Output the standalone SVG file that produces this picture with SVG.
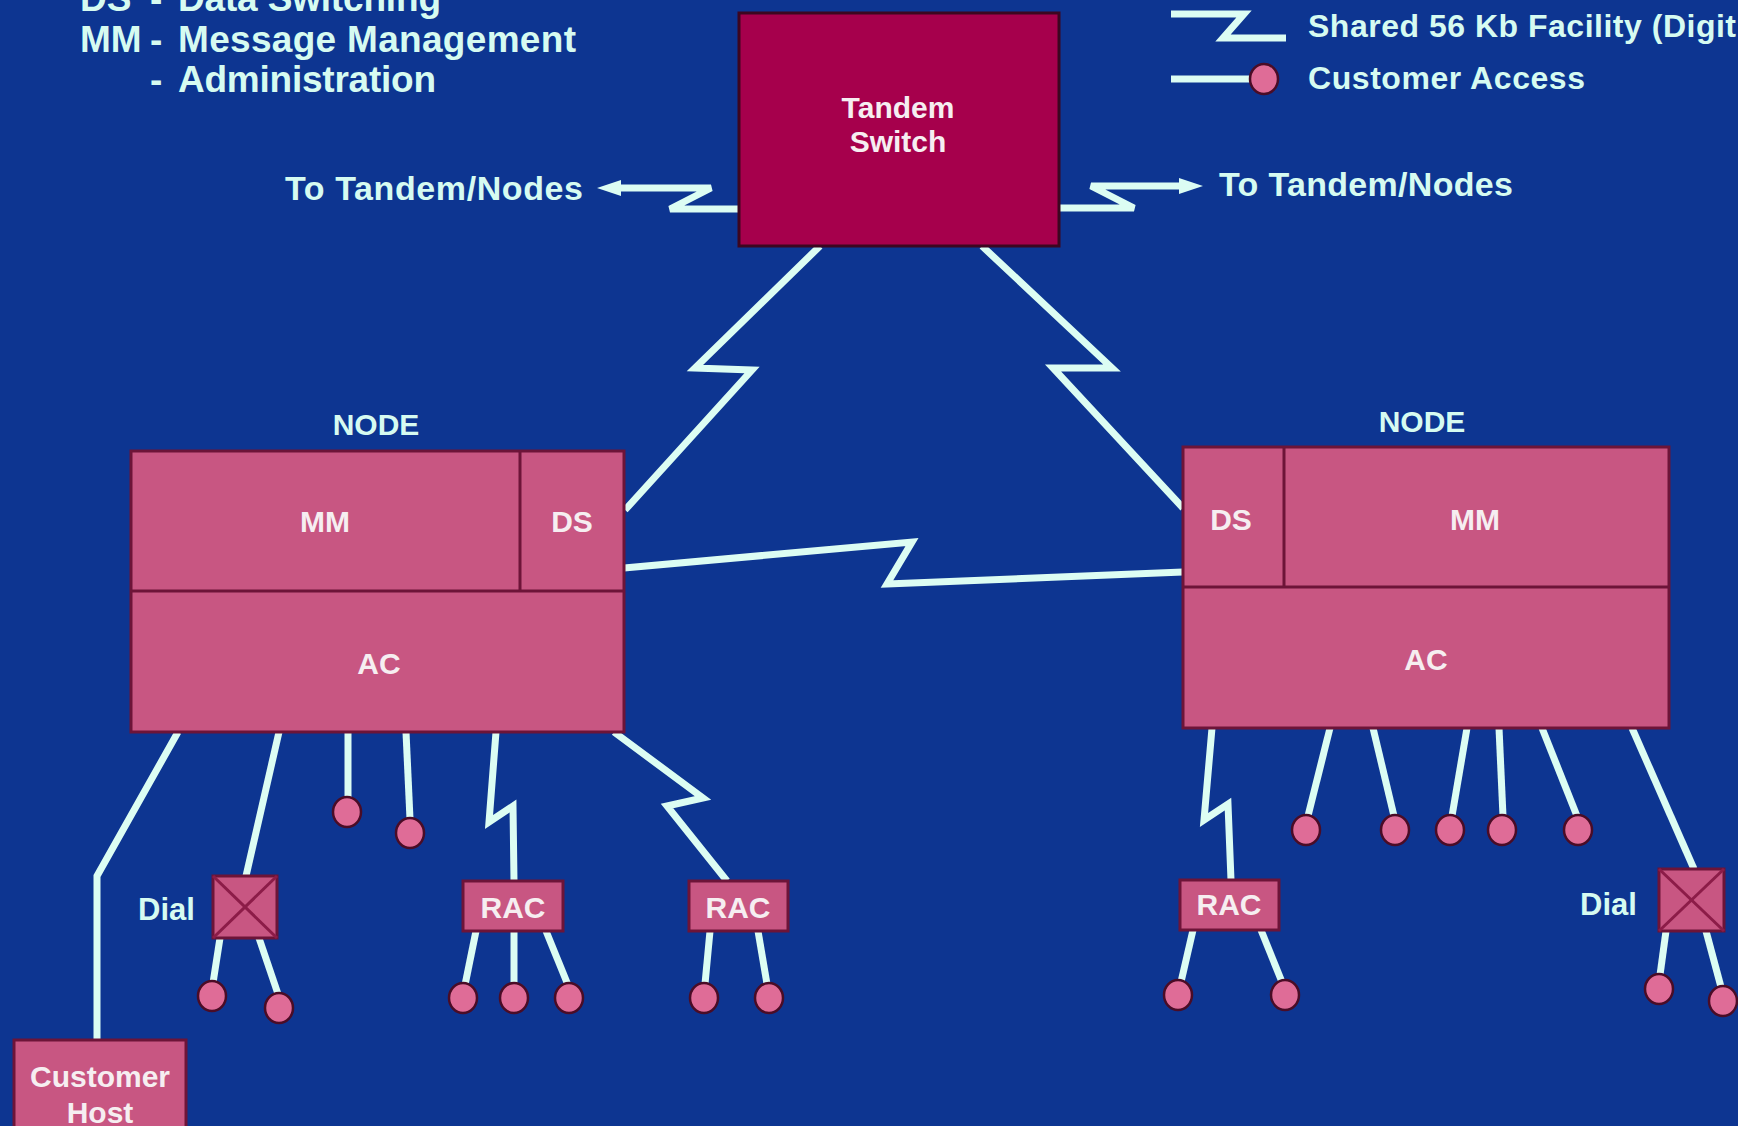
<svg xmlns="http://www.w3.org/2000/svg" width="1738" height="1126" viewBox="0 0 1738 1126">
  <defs>
    <style>
      .ln { fill: none; stroke: #dcfdf3; stroke-width: 7; stroke-linejoin: miter; stroke-miterlimit: 4; stroke-linecap: butt; }
      .txt { font-family: "Liberation Sans", Arial, Helvetica, sans-serif; font-weight: bold; fill: #d6fbf1; }
      .legend { font-size: 37px; }
      .legend2 { font-size: 32px; }
      .dest { font-size: 34px; }
      .nodelbl { font-size: 30px; text-anchor: middle; }
      .inner { font-family: "Liberation Sans", Arial, Helvetica, sans-serif; font-weight: bold; fill: #f6eef1; text-anchor: middle; font-size: 30px; }
      .tandem { fill: #a6004c; stroke: #3c0620; stroke-width: 3; }
      .node { fill: #c85682; stroke: #6d1438; stroke-width: 3; }
      .div { stroke: #6d1438; stroke-width: 3; }
      .ca { fill: #df6c97; stroke: #4a0c26; stroke-width: 2.5; }
      .xline { stroke: #8c1c48; stroke-width: 3; }
    </style>
    <marker id="arrow" viewBox="0 0 24 16" refX="4" refY="8" markerWidth="24" markerHeight="16" markerUnits="userSpaceOnUse" orient="auto">
      <path d="M0,0 L24,8 L0,16 Z" fill="#dcfdf3"/>
    </marker>
  </defs>

  <!-- backdrop -->
  <rect x="0" y="0" width="1738" height="1126" fill="#0d3591"/>

  <!-- legend: abbreviations -->
  <g id="legend-abbrev" class="txt legend">
    <text x="80" y="11">DS</text>
    <text x="150" y="11">-</text>
    <text x="178" y="11" textLength="263" lengthAdjust="spacing">Data Switching</text>
    <text x="80" y="52">MM</text>
    <text x="150" y="52">-</text>
    <text x="178" y="52" textLength="398" lengthAdjust="spacing">Message Management</text>
    <text x="150" y="92">-</text>
    <text x="178" y="92" textLength="258" lengthAdjust="spacing">Administration</text>
  </g>

  <!-- legend: line symbols -->
  <g id="legend-symbols">
    <path class="ln" d="M1171,14 L1244,14 L1223,38 L1286,38"/>
    <path class="ln" d="M1171,79 L1252,79"/>
    <ellipse class="ca" cx="1264" cy="79" rx="14" ry="15"/>
    <text class="txt legend2" x="1308" y="37" textLength="428" lengthAdjust="spacing">Shared 56 Kb Facility (Digit</text>
    <text class="txt legend2" x="1308" y="89" textLength="277" lengthAdjust="spacing">Customer Access</text>
  </g>

  <!-- connectors -->
  <g id="connectors">
    <!-- tandem outward trunks -->
    <path class="ln" d="M739,209 L670,209 L711,188 L617,188" marker-end="url(#arrow)"/>
    <path class="ln" d="M1059,208 L1134,208 L1091,186 L1183,186" marker-end="url(#arrow)"/>
    <!-- tandem to nodes -->
    <path class="ln" d="M820,246 L695,368 L752,370 L625,510"/>
    <path class="ln" d="M982,246 L1112,368 L1053,368 L1183,508"/>
    <!-- node to node -->
    <path class="ln" d="M624,568 L912,542 L887,584 L1183,572"/>

    <!-- left node access lines -->
    <path class="ln" d="M178,732 L97,876 L97,1040"/>
    <path class="ln" d="M279,732 L246,876"/>
    <path class="ln" d="M348,732 L348,798"/>
    <path class="ln" d="M406,732 L410,819"/>
    <path class="ln" d="M496,732 L489,822 L513,806 L514,881"/>
    <path class="ln" d="M614,732 L703,798 L667,806 L727,881"/>
    <!-- left dial fan-out -->
    <path class="ln" d="M220,938 L213,983"/>
    <path class="ln" d="M259,938 L278,994"/>
    <!-- left RAC fan-out -->
    <path class="ln" d="M476,931 L465,985"/>
    <path class="ln" d="M514,931 L514,985"/>
    <path class="ln" d="M546,931 L568,985"/>
    <path class="ln" d="M710,931 L705,984"/>
    <path class="ln" d="M758,931 L767,984"/>

    <!-- right node access lines -->
    <path class="ln" d="M1212,728 L1204,820 L1228,804 L1231,880"/>
    <path class="ln" d="M1330,728 L1308,816"/>
    <path class="ln" d="M1373,728 L1394,816"/>
    <path class="ln" d="M1467,728 L1452,816"/>
    <path class="ln" d="M1499,728 L1503,816"/>
    <path class="ln" d="M1542,728 L1577,816"/>
    <path class="ln" d="M1632,728 L1694,869"/>
    <!-- right RAC fan-out -->
    <path class="ln" d="M1193,930 L1181,982"/>
    <path class="ln" d="M1261,930 L1282,982"/>
    <!-- right dial fan-out -->
    <path class="ln" d="M1666,931 L1660,975"/>
    <path class="ln" d="M1706,931 L1721,987"/>
  </g>

  <!-- tandem switch -->
  <g id="tandem-switch">
    <rect class="tandem" x="739" y="13" width="320" height="233"/>
    <text class="inner" x="898" y="118" font-size="32">Tandem</text>
    <text class="inner" x="898" y="152" font-size="32">Switch</text>
  </g>

  <g id="dest-left">
    <text class="txt dest" x="285" y="200" textLength="298" lengthAdjust="spacing">To Tandem/Nodes</text>
  </g>
  <g id="dest-right">
    <text class="txt dest" x="1219" y="196" textLength="294" lengthAdjust="spacing">To Tandem/Nodes</text>
  </g>

  <!-- left node -->
  <g id="node-left">
    <text class="txt nodelbl" x="376" y="435">NODE</text>
    <rect class="node" x="131" y="451" width="493" height="281"/>
    <line class="div" x1="131" y1="591" x2="624" y2="591"/>
    <line class="div" x1="520" y1="451" x2="520" y2="591"/>
    <text class="inner" x="325" y="532">MM</text>
    <text class="inner" x="572" y="532">DS</text>
    <text class="inner" x="379" y="674">AC</text>
  </g>

  <!-- right node -->
  <g id="node-right">
    <text class="txt nodelbl" x="1422" y="432">NODE</text>
    <rect class="node" x="1183" y="447" width="486" height="281"/>
    <line class="div" x1="1183" y1="587" x2="1669" y2="587"/>
    <line class="div" x1="1284" y1="447" x2="1284" y2="587"/>
    <text class="inner" x="1231" y="530">DS</text>
    <text class="inner" x="1475" y="530">MM</text>
    <text class="inner" x="1426" y="670">AC</text>
  </g>

  <!-- customer host -->
  <g id="customer-host">
    <rect class="node" x="14" y="1040" width="172" height="100"/>
    <text class="inner" x="100" y="1087" font-size="32">Customer</text>
    <text class="inner" x="100" y="1123" font-size="32">Host</text>
  </g>

  <!-- dial units -->
  <g id="dial-left">
    <rect class="node" x="213" y="876" width="64" height="62"/>
    <line class="xline" x1="213" y1="876" x2="277" y2="938"/>
    <line class="xline" x1="277" y1="876" x2="213" y2="938"/>
    <text class="txt" x="138" y="920" font-size="31">Dial</text>
  </g>
  <g id="dial-right">
    <rect class="node" x="1659" y="869" width="65" height="62"/>
    <line class="xline" x1="1659" y1="869" x2="1724" y2="931"/>
    <line class="xline" x1="1724" y1="869" x2="1659" y2="931"/>
    <text class="txt" x="1580" y="915" font-size="31">Dial</text>
  </g>

  <!-- remote access concentrators -->
  <g id="rac-1">
    <rect class="node" x="463" y="881" width="100" height="50"/>
    <text class="inner" x="513" y="918">RAC</text>
  </g>
  <g id="rac-2">
    <rect class="node" x="689" y="881" width="99" height="50"/>
    <text class="inner" x="738" y="918">RAC</text>
  </g>
  <g id="rac-3">
    <rect class="node" x="1180" y="880" width="99" height="50"/>
    <text class="inner" x="1229" y="915">RAC</text>
  </g>

  <!-- customer access points -->
  <g id="access-points">
    <ellipse class="ca" cx="347" cy="812" rx="14" ry="15"/>
    <ellipse class="ca" cx="410" cy="833" rx="14" ry="15"/>
    <ellipse class="ca" cx="212" cy="996" rx="14" ry="15"/>
    <ellipse class="ca" cx="279" cy="1008" rx="14" ry="15"/>
    <ellipse class="ca" cx="463" cy="998" rx="14" ry="15"/>
    <ellipse class="ca" cx="514" cy="998" rx="14" ry="15"/>
    <ellipse class="ca" cx="569" cy="998" rx="14" ry="15"/>
    <ellipse class="ca" cx="704" cy="998" rx="14" ry="15"/>
    <ellipse class="ca" cx="769" cy="998" rx="14" ry="15"/>
    <ellipse class="ca" cx="1178" cy="995" rx="14" ry="15"/>
    <ellipse class="ca" cx="1285" cy="995" rx="14" ry="15"/>
    <ellipse class="ca" cx="1306" cy="830" rx="14" ry="15"/>
    <ellipse class="ca" cx="1395" cy="830" rx="14" ry="15"/>
    <ellipse class="ca" cx="1450" cy="830" rx="14" ry="15"/>
    <ellipse class="ca" cx="1502" cy="830" rx="14" ry="15"/>
    <ellipse class="ca" cx="1578" cy="830" rx="14" ry="15"/>
    <ellipse class="ca" cx="1659" cy="989" rx="14" ry="15"/>
    <ellipse class="ca" cx="1723" cy="1001" rx="14" ry="15"/>
  </g>
</svg>
